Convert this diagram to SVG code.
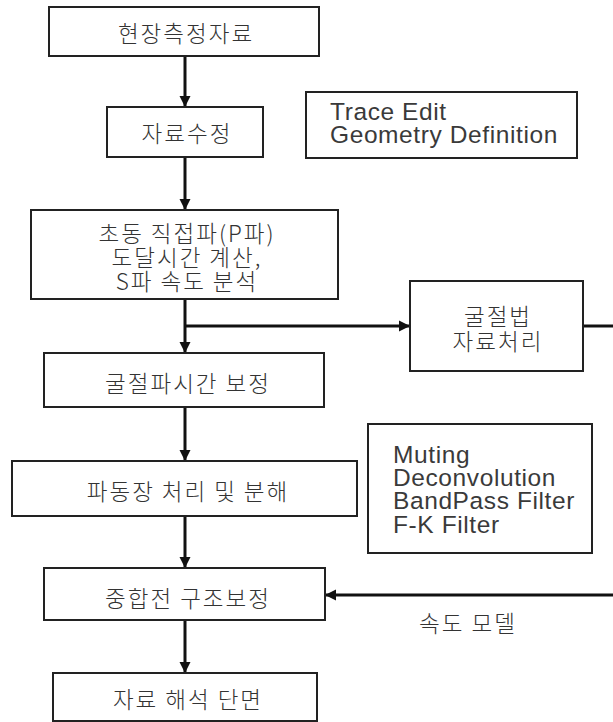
<svg xmlns="http://www.w3.org/2000/svg" width="613" height="722" viewBox="0 0 613 722">
<defs>
<style>
.box{fill:#fff;stroke:#222;stroke-width:2}
.kt{font-family:"Noto Sans CJK KR","Noto Sans",sans-serif;font-size:22.5px;font-weight:300;fill:#333;text-anchor:middle;dominant-baseline:central;letter-spacing:2px}
.et{font-family:"Liberation Sans","Noto Sans",sans-serif;font-size:24.5px;fill:#3a3a3a;letter-spacing:0.6px}
.ln{stroke:#111;stroke-width:3;fill:none}
</style>
<marker id="ah" viewBox="0 0 10 10" refX="10" refY="5" markerWidth="3.8" markerHeight="3.8" orient="auto" markerUnits="strokeWidth">
<path d="M0,0 L10,5 L0,10 z" fill="#111"/>
</marker>
</defs>
<rect width="613" height="722" fill="#fff"/>
<g id="connectors">
<line class="ln" x1="185" y1="56" x2="185" y2="107" marker-end="url(#ah)"/>
<line class="ln" x1="185" y1="157" x2="185" y2="210" marker-end="url(#ah)"/>
<line class="ln" x1="185" y1="299" x2="185" y2="353" marker-end="url(#ah)"/>
<line class="ln" x1="185" y1="326" x2="410" y2="326" marker-end="url(#ah)"/>
<line class="ln" x1="583" y1="326" x2="613" y2="326"/>
<line class="ln" x1="185" y1="407" x2="185" y2="461" marker-end="url(#ah)"/>
<line class="ln" x1="185" y1="516" x2="185" y2="568" marker-end="url(#ah)"/>
<line class="ln" x1="613" y1="595" x2="325" y2="595" marker-end="url(#ah)"/>
<line class="ln" x1="185" y1="620" x2="185" y2="673" marker-end="url(#ah)"/>
</g>
<g id="n1"><rect class="box" x="49" y="7" width="270" height="49"/><text class="kt" x="186" y="32">현장측정자료</text></g>
<g id="n2"><rect class="box" x="107" y="107" width="156" height="50"/><text class="kt" x="187" y="132">자료수정</text></g>
<g id="note1"><rect class="box" x="306" y="92" width="271" height="66"/><text class="et" x="330" y="120">Trace Edit</text><text class="et" x="330" y="143">Geometry Definition</text></g>
<g id="n3"><rect class="box" x="31" y="210" width="307" height="89"/><text class="kt" x="187" y="232">초동 직접파(P파)</text><text class="kt" x="187" y="256">도달시간 계산,</text><text class="kt" x="187" y="280">S파 속도 분석</text></g>
<g id="n4"><rect class="box" x="410" y="281" width="173" height="90"/><text class="kt" x="498" y="315">굴절법</text><text class="kt" x="498" y="340">자료처리</text></g>
<g id="n5"><rect class="box" x="44" y="353" width="280" height="54"/><text class="kt" x="188" y="382">굴절파시간 보정</text></g>
<g id="note2"><rect class="box" x="368" y="424" width="224" height="129"/><text class="et" x="393" y="463">Muting</text><text class="et" x="393" y="486">Deconvolution</text><text class="et" x="393" y="509">BandPass Filter</text><text class="et" x="393" y="533">F-K Filter</text></g>
<g id="n6"><rect class="box" x="12" y="461" width="345" height="55"/><text class="kt" x="188" y="490">파동장 처리 및 분해</text></g>
<g id="n7"><rect class="box" x="44" y="568" width="281" height="52"/><text class="kt" x="188" y="597">중합전 구조보정</text></g>
<g id="lbl"><text class="kt" x="468" y="622">속도 모델</text></g>
<g id="n8"><rect class="box" x="53" y="673" width="264" height="48"/><text class="kt" x="188" y="698">자료 해석 단면</text></g>
</svg>
